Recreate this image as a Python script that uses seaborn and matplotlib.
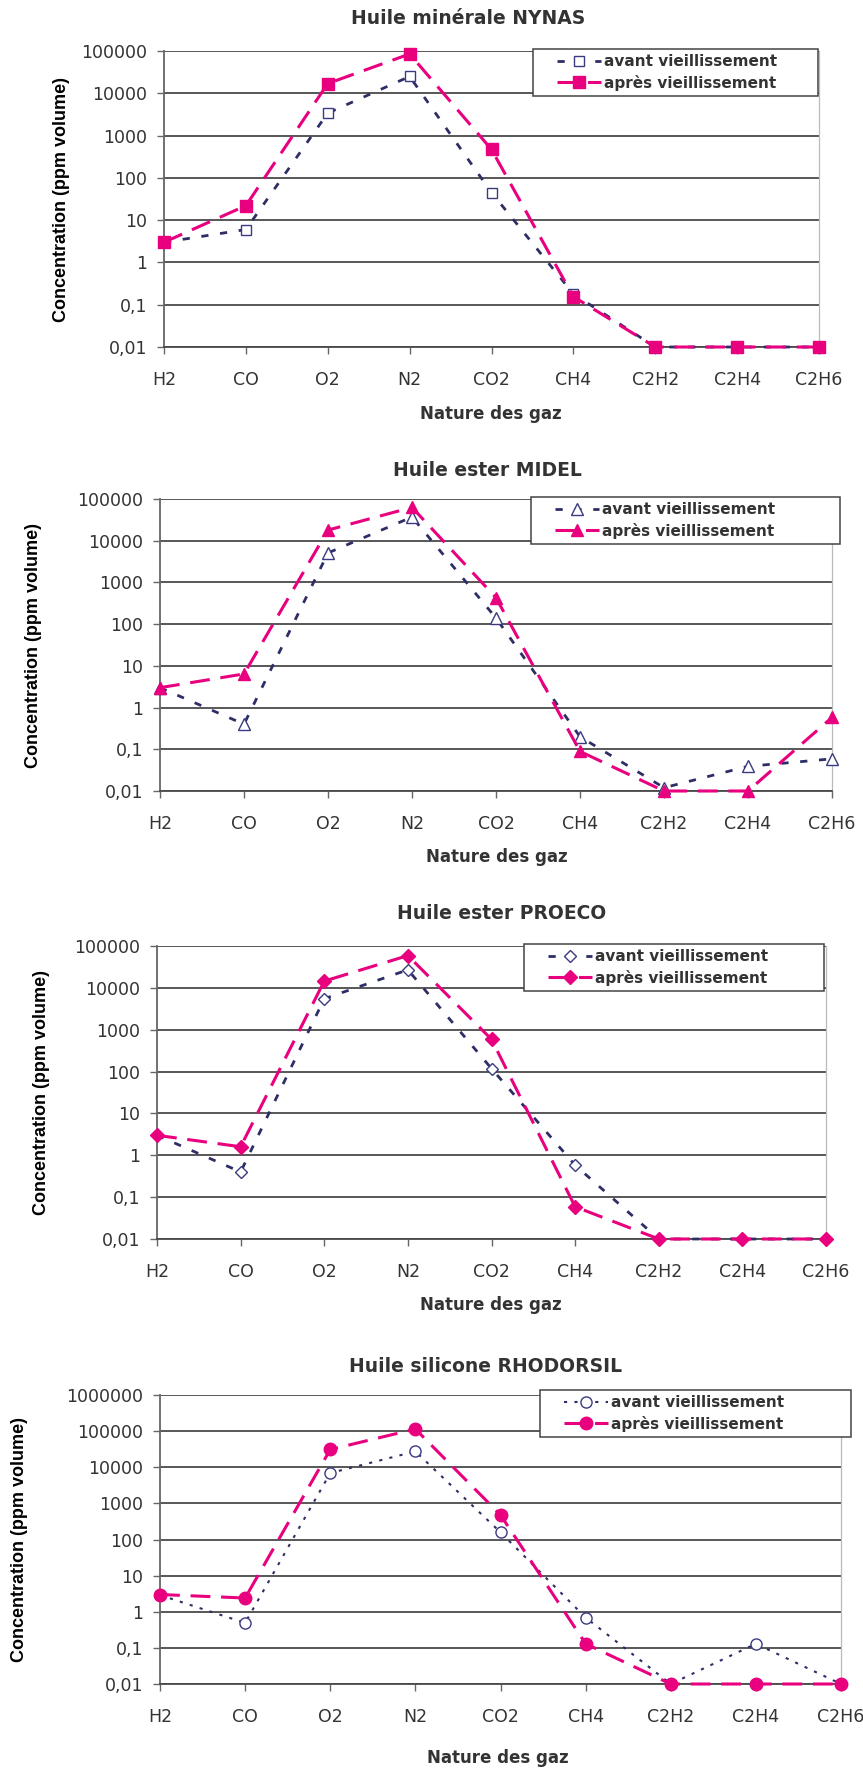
import matplotlib
matplotlib.use("Agg")
import matplotlib.pyplot as plt
import seaborn as sns
from matplotlib.legend_handler import HandlerLine2D

sns.set_theme(style="white")
plt.rcParams['font.family'] = ['DejaVu Sans']

# ---------------- data ----------------
gases = ["H2", "CO", "O2", "N2", "CO2", "CH4", "C2H2", "C2H4", "C2H6"]

nynas_avant = [3, 6, 3400, 25000, 45, 0.18, 0.01, 0.01, 0.01]
nynas_apres = [3, 22, 17000, 85000, 470, 0.155, 0.01, 0.01, 0.01]

midel_avant = [3, 0.4, 5100, 37000, 140, 0.2, 0.012, 0.039, 0.059]
midel_apres = [3, 6.4, 18000, 63000, 430, 0.089, 0.01, 0.01, 0.58]

proeco_avant = [3, 0.4, 5500, 27000, 118, 0.58, 0.01, 0.01, 0.01]
proeco_apres = [3, 1.6, 14500, 59000, 590, 0.059, 0.01, 0.01, 0.01]

rhodo_avant = [2.9, 0.49, 6900, 27500, 158, 0.69, 0.01, 0.13, 0.01]
rhodo_apres = [3, 2.4, 31000, 114000, 480, 0.13, 0.01, 0.01, 0.01]

titles = ["Huile minérale NYNAS", "Huile ester MIDEL",
          "Huile ester PROECO", "Huile silicone RHODORSIL"]
series_labels = ["avant vieillissement", "après vieillissement"]
xlabel_text = "Nature des gaz"
ylabel_text = "Concentration (ppm volume)"
ytick_values = [0.01, 0.1, 1, 10, 100, 1000, 10000, 100000, 1000000]
ytick_labels = ["0,01", "0,1", "1", "10", "100", "1000", "10000", "100000", "1000000"]

# ---------------- layout ----------------
W, H = 863, 1769
fig = plt.figure(figsize=(W / 100, H / 100), dpi=100)

def rect(l, t, r, b):
    return [l / W, 1 - b / H, (r - l) / W, (b - t) / H]

panels = [
    dict(data=(nynas_avant, nynas_apres), ax=(164, 51, 819, 347), ymax=1e5,
         title=(468, 19), xlab=(491, 414), ylab_x=61, leg=(533, 49, 818, 93),
         markers=("s", "s"), ms=(7.5, 8.5), avant_ls=(0, (2.6, 4.2)), avant_lw=2.0),
    dict(data=(midel_avant, midel_apres), ax=(160, 499, 832, 791), ymax=1e5,
         title=(487, 470), xlab=(497, 857), ylab_x=34, leg=(531, 497, 840, 542),
         markers=("^", "^"), ms=(8, 9), avant_ls=(0, (2.6, 4.2)), avant_lw=2.0),
    dict(data=(proeco_avant, proeco_apres), ax=(157, 946, 826, 1239), ymax=1e5,
         title=(502, 913), xlab=(491, 1305), ylab_x=42, leg=(524, 944, 824, 989),
         markers=("D", "D"), ms=(6.5, 7.5), avant_ls=(0, (2.6, 4.2)), avant_lw=2.0),
    dict(data=(rhodo_avant, rhodo_apres), ax=(160, 1395, 841, 1684), ymax=1e6,
         title=(486, 1367), xlab=(498, 1758), ylab_x=20, leg=(540, 1390, 851, 1436),
         markers=("o", "o"), ms=(8, 9), avant_ls=(0, (1.5, 3.5)), avant_lw=1.5),
]

NAVY = "#2E2E66"
NAVY_EDGE = "#3A3A80"
PINK = "#E8007F"
GRID = "#4a4a4a"
TXT = "#333333"
LEG_FS = 11

for i, p in enumerate(panels):
    ax = fig.add_axes(rect(*p["ax"]))
    ax.set_yscale("log")
    avant, apres = p["data"]

    sns.lineplot(x=gases, y=avant, ax=ax, sort=False, errorbar=None,
                 color=NAVY, linewidth=p["avant_lw"], linestyle=p["avant_ls"],
                 marker=p["markers"][0], markersize=p["ms"][0],
                 markerfacecolor="white", markeredgecolor=NAVY_EDGE,
                 markeredgewidth=1.0, clip_on=False, label=series_labels[0], zorder=3)
    sns.lineplot(x=gases, y=apres, ax=ax, sort=False, errorbar=None,
                 color=PINK, linewidth=2.2, linestyle=(0, (6.5, 3.5)),
                 marker=p["markers"][1], markersize=p["ms"][1],
                 markerfacecolor=PINK, markeredgecolor=PINK,
                 markeredgewidth=1.0, clip_on=False, label=series_labels[1], zorder=4)

    ax.set_xlim(0, len(gases) - 1)
    ax.set_ylim(0.01, p["ymax"])
    vals = [v for v in ytick_values if v <= p["ymax"]]
    labs = ytick_labels[:len(vals)]
    ax.set_yticks(vals)
    ax.set_yticklabels(labs)
    ax.minorticks_off()
    ax.set_xticks(range(len(gases)))
    ax.set_xticklabels(gases)

    ax.grid(axis="y", color=GRID, linewidth=1.3)
    ax.grid(axis="x", visible=False)
    ax.set_axisbelow(True)
    ax.spines["top"].set_visible(False)
    ax.spines["right"].set_color("#bbbbbb")
    ax.spines["right"].set_linewidth(0.9)
    ax.spines["left"].set_color("#666666")
    ax.spines["left"].set_linewidth(1.3)
    ax.spines["bottom"].set_color(GRID)
    ax.spines["bottom"].set_linewidth(1.3)

    ax.tick_params(axis="y", which="major", length=5, width=1, color="#666666",
                   direction="out", left=True, labelsize=12.5, labelcolor=TXT, pad=7)
    ax.tick_params(axis="x", which="major", length=5, width=1, color="#666666",
                   direction="out", bottom=True, labelsize=12.5, labelcolor=TXT, pad=12)
    ax.set_xlabel("")
    ax.set_ylabel("")

    # titles and axis labels
    fig.text(p["title"][0] / W, 1 - p["title"][1] / H, titles[i],
             ha="center", va="center", fontsize=13.5, fontweight="bold", color=TXT)
    fig.text(p["xlab"][0] / W, 1 - p["xlab"][1] / H, xlabel_text,
             ha="center", va="center", fontsize=12, fontweight="bold", color=TXT)
    l, t, r, b = p["ax"]
    fig.text(p["ylab_x"] / W, 1 - ((t + b) / 2) / H, ylabel_text,
             ha="center", va="center", rotation=90, fontsize=13,
             fontweight="bold", color="black", family=["Liberation Sans", "DejaVu Sans"])

    # legend: box spanning the reference frame, handle shifted right
    ll, lt, lr, lb = p["leg"]
    handles, labels = ax.get_legend_handles_labels()
    hmap = {h: HandlerLine2D(xpad=1.25) for h in handles}
    leg = ax.legend(handles, labels, loc="upper left",
                    bbox_to_anchor=(ll / W, 1 - lb / H, (lr - ll) / W, (lb - lt) / H),
                    bbox_transform=fig.transFigure, mode="expand",
                    frameon=True, fancybox=False, framealpha=1,
                    edgecolor="#444444", borderpad=0.35, labelspacing=0.35,
                    handlelength=4.1, handletextpad=0.2, borderaxespad=0,
                    handler_map=hmap,
                    prop=dict(size=LEG_FS, weight="bold"))
    leg.get_frame().set_linewidth(1.1)
    for txt in leg.get_texts():
        txt.set_color(TXT)

fig.savefig("out.png", dpi=100)
